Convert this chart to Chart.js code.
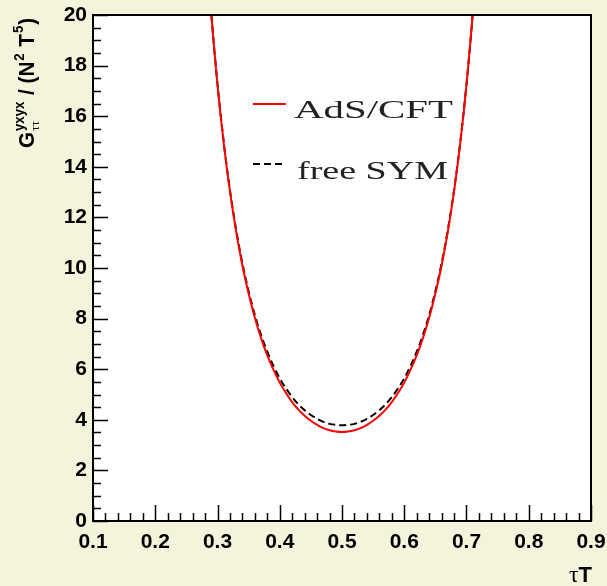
<!DOCTYPE html>
<html>
<head>
<meta charset="utf-8">
<script src="https://cdn.jsdelivr.net/npm/chart.js@4.4.1/dist/chart.umd.min.js"></script>
<style>
  html, body { margin: 0; padding: 0; background: #f4f4dd; }
  #wrap { width: 607px; height: 586px; }
</style>
</head>
<body>
<div id="wrap"><canvas id="c" width="607" height="586"></canvas></div>
<script>
// ---- data ----
const tauT = [0.28,0.29,0.30,0.31,0.32,0.33,0.34,0.35,0.36,0.37,0.38,0.39,0.40,0.41,0.42,0.43,0.44,0.45,0.46,0.47,0.48,0.49,0.50,
              0.51,0.52,0.53,0.54,0.55,0.56,0.57,0.58,0.59,0.60,0.61,0.62,0.63,0.64,0.65,0.66,0.67,0.68,0.69,0.70,0.71,0.72];
const adsCft = [23.46,20.04,17.24,14.94,13.03,11.44,10.10,8.99,8.03,7.23,6.55,5.97,5.47,5.06,4.70,4.40,4.16,3.96,3.80,3.67,3.59,3.54,3.52,
                3.54,3.59,3.67,3.80,3.96,4.16,4.40,4.70,5.06,5.47,5.97,6.55,7.23,8.03,8.99,10.10,11.44,13.03,14.94,17.24,20.04,23.46];
const freeSym = [23.48,20.06,17.27,14.98,13.08,11.50,10.18,9.08,8.14,7.35,6.69,6.12,5.64,5.24,4.90,4.61,4.38,4.19,4.04,3.92,3.84,3.80,3.78,
                 3.80,3.84,3.92,4.04,4.19,4.38,4.61,4.90,5.24,5.64,6.12,6.69,7.35,8.14,9.08,10.18,11.50,13.08,14.98,17.27,20.06,23.48];
const seriesNames = ['AdS/CFT', 'free SYM'];
const xTickLabels = ['0.1','0.2','0.3','0.4','0.5','0.6','0.7','0.8','0.9'];
const yTickLabels = ['0','2','4','6','8','10','12','14','16','18','20'];

const toPts = ys => tauT.map((x, i) => ({ x, y: ys[i] }));

const framePlugin = {
  id: 'frame',
  beforeDatasetsDraw(chart) {
    const { ctx, chartArea: a } = chart;
    ctx.save();
    ctx.fillStyle = '#ffffff';
    ctx.fillRect(a.left, a.top, a.right - a.left, a.bottom - a.top);
    ctx.restore();
  },
  afterDatasetsDraw(chart) {
    const { ctx, chartArea: a, scales } = chart;
    const xs = scales.x, ys = scales.y;
    ctx.save();
    ctx.strokeStyle = '#000';
    ctx.lineWidth = 2;
    ctx.strokeRect(a.left, a.top, a.right - a.left, a.bottom - a.top);
    ctx.lineWidth = 1.5;
    ctx.beginPath();
    for (let i = 0; i <= 40; i++) {
      const v = 0.1 + i * 0.02;
      const px = Math.round(xs.getPixelForValue(v)) + 0.5;
      const len = (i % 5 === 0) ? 16 : 8;
      ctx.moveTo(px, a.bottom); ctx.lineTo(px, a.bottom - len);
    }
    for (let i = 0; i <= 40; i++) {
      const v = i * 0.5;
      const py = Math.round(ys.getPixelForValue(v)) + 0.5;
      const len = (i % 4 === 0) ? 15 : 8;
      ctx.moveTo(a.left, py); ctx.lineTo(a.left + len, py);
    }
    ctx.stroke();

    const ds = chart.data.datasets;
    const entries = [
      { y: 104, tx: 294, tw: 159, base: 118 },
      { y: 164, tx: 297, tw: 151, base: 179 }
    ];
    entries.forEach((e, i) => {
      ctx.save();
      ctx.strokeStyle = ds[i].borderColor;
      ctx.lineWidth = 2;
      ctx.setLineDash(ds[i].borderDash || []);
      ctx.beginPath();
      ctx.moveTo(253, e.y); ctx.lineTo(286, e.y);
      ctx.stroke();
      ctx.setLineDash([]);
      ctx.font = '26px "Liberation Serif"';
      ctx.fillStyle = '#222';
      ctx.textBaseline = 'alphabetic';
      const w = ctx.measureText(ds[i].label).width;
      ctx.translate(e.tx, e.base);
      ctx.scale(e.tw / w, 1);
      ctx.fillText(ds[i].label, 0, 0);
      ctx.restore();
    });
    ctx.restore();
  },
  afterDraw(chart) {
    const { ctx } = chart;
    ctx.save();
    ctx.fillStyle = '#000';
    ctx.textBaseline = 'alphabetic';
    ctx.font = 'bold 22px "Liberation Sans"';
    const tw = ctx.measureText('T').width;
    ctx.fillText('T', 592 - tw, 582);
    ctx.font = '24px "Liberation Serif"';
    const tauW = ctx.measureText('τ').width;
    ctx.fillText('τ', 592 - tw - tauW, 582);

    const pieces = [
      { t: 'G', f: 'bold 22px "Liberation Sans"', dy: 0 },
      { t: 'yxyx', f: 'bold 14px "Liberation Sans"', dy: -10, stack: 'ττ', sf: '13px "Liberation Serif"', sdy: 5 },
      { t: ' / (N', f: 'bold 22px "Liberation Sans"', dy: 0 },
      { t: '2', f: 'bold 14px "Liberation Sans"', dy: -10 },
      { t: ' T', f: 'bold 22px "Liberation Sans"', dy: 0 },
      { t: '5', f: 'bold 14px "Liberation Sans"', dy: -11 },
      { t: ')', f: 'bold 22px "Liberation Sans"', dy: 0 }
    ];
    let total = 0;
    pieces.forEach(p => {
      ctx.font = p.f; let w = ctx.measureText(p.t).width;
      if (p.stack) { ctx.font = p.sf; w = Math.max(w, ctx.measureText(p.stack).width); }
      p.w = w + 1; total += p.w;
    });
    const target = 131;
    ctx.translate(34, 148);
    ctx.rotate(-Math.PI / 2);
    ctx.scale(target / total, 1);
    let x = 0;
    pieces.forEach(p => {
      ctx.font = p.f; ctx.fillText(p.t, x, p.dy);
      if (p.stack) { ctx.font = p.sf; ctx.fillText(p.stack, x, p.sdy); }
      x += p.w;
    });
    ctx.restore();
  }
};

new Chart(document.getElementById('c'), {
  type: 'line',
  data: {
    datasets: [
      { label: seriesNames[0], data: toPts(adsCft), borderColor: '#ff0000', borderWidth: 2,
        pointRadius: 0, cubicInterpolationMode: 'monotone', clip: 0, fill: false },
      { label: seriesNames[1], data: toPts(freeSym), borderColor: '#000000', borderWidth: 2,
        borderDash: [7, 4], pointRadius: 0, cubicInterpolationMode: 'monotone', clip: 0, fill: false }
    ]
  },
  options: {
    responsive: false,
    animation: false,
    devicePixelRatio: 1,
    layout: { padding: { left: 0, top: 15, right: 16, bottom: 0 } },
    plugins: { legend: { display: false }, tooltip: { enabled: false } },
    scales: {
      x: {
        type: 'linear', min: 0.1, max: 0.9,
        afterFit: s => { s.height = 65; s.paddingLeft = 0; s.paddingRight = 0; },
        afterBuildTicks: s => { s.ticks = xTickLabels.map(t => ({ value: parseFloat(t) })); },
        grid: { display: false, drawTicks: false },
        border: { display: false },
        ticks: {
          autoSkip: false, maxRotation: 0, padding: 9, color: '#000',
          font: { family: 'Liberation Sans', weight: 'bold', size: 21 },
          callback: (v) => xTickLabels.find(t => Math.abs(parseFloat(t) - v) < 1e-6) || ''
        }
      },
      y: {
        type: 'linear', min: 0, max: 20,
        afterFit: s => { s.width = 93; s.paddingTop = 0; s.paddingBottom = 0; },
        afterBuildTicks: s => { s.ticks = yTickLabels.map(t => ({ value: parseFloat(t) })); },
        grid: { display: false, drawTicks: false },
        border: { display: false },
        ticks: {
          autoSkip: false, padding: 6, color: '#000',
          font: { family: 'Liberation Sans', weight: 'bold', size: 21 },
          callback: (v) => yTickLabels.find(t => Math.abs(parseFloat(t) - v) < 1e-6) || ''
        }
      }
    }
  },
  plugins: [framePlugin]
});
</script>
</body>
</html>
